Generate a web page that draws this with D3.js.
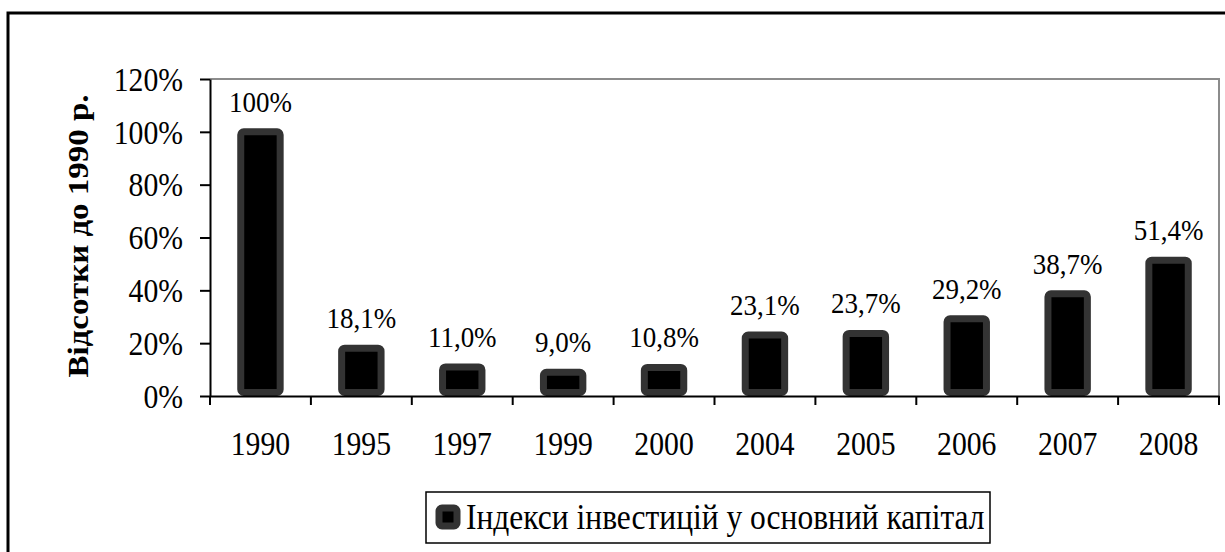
<!DOCTYPE html>
<html>
<head>
<meta charset="utf-8">
<script src="https://cdn.jsdelivr.net/npm/d3@7"></script>
<style>
  body { margin: 0; background: #fff; }
  text { font-family: "Liberation Serif", "Times New Roman", serif; fill: #000; }
</style>
</head>
<body>
<div id="chart"></div>
<script>
// chart data
var years = ["1990", "1995", "1997", "1999", "2000", "2004", "2005", "2006", "2007", "2008"];
var values = [1.0, 0.181, 0.110, 0.090, 0.108, 0.231, 0.237, 0.292, 0.387, 0.514];
var valueLabels = ["100%", "18,1%", "11,0%", "9,0%", "10,8%", "23,1%", "23,7%", "29,2%", "38,7%", "51,4%"];
var yTicks = [0, 0.2, 0.4, 0.6, 0.8, 1.0, 1.2];
var yTitle = "Відсотки до 1990 р.";
var legendLabel = "Індекси інвестицій у основний капітал";

var width = 1225, height = 552;
var plot = { left: 210, right: 1219, top: 79, bottom: 396 };
var squeeze = 0.9; // text in the picture is a bit narrower than normal

var svg = d3.select("#chart").append("svg")
    .attr("width", width)
    .attr("height", height);

// outer frame (runs off the right and bottom edge)
svg.append("rect")
    .attr("x", 8).attr("y", 13)
    .attr("width", 1300).attr("height", 600)
    .attr("fill", "none")
    .attr("stroke", "#000")
    .attr("stroke-width", 3);

// scales
var x = d3.scaleBand()
    .domain(years)
    .range([plot.left, plot.right])
    .paddingInner(0.54)
    .paddingOuter(0.27);

var y = d3.scaleLinear()
    .domain([0, 1.2])
    .range([plot.bottom, plot.top]);

// plot area border top + right (gray)
svg.append("path")
    .attr("d", "M" + plot.left + "," + plot.top + "H" + plot.right + "V" + plot.bottom)
    .attr("fill", "none")
    .attr("stroke", "#8c8c8c")
    .attr("stroke-width", 2);

// bars
var sw = 7;
svg.selectAll("rect.bar")
    .data(values)
    .enter().append("rect")
    .attr("class", "bar")
    .attr("x", function(d, i) { return x(years[i]) + sw / 2; })
    .attr("y", function(d) { return y(d); })
    .attr("width", x.bandwidth() - sw)
    .attr("height", function(d) { return y(0) - y(d) - sw / 2; })
    .attr("rx", 3)
    .attr("fill", "#000")
    .attr("stroke", "#333")
    .attr("stroke-width", sw);

// value labels
svg.selectAll("text.value")
    .data(values)
    .enter().append("text")
    .attr("class", "value")
    .attr("text-anchor", "middle")
    .attr("font-size", 30)
    .attr("transform", function(d, i) {
        return "translate(" + (x(years[i]) + x.bandwidth() / 2) + "," + (y(d) - 20) + ") scale(" + squeeze + ",1)";
    })
    .text(function(d, i) { return valueLabels[i]; });

// y axis
var yAxis = svg.append("g")
    .attr("transform", "translate(" + plot.left + ",0)")
    .call(d3.axisLeft(y).tickValues(yTicks).tickSize(10).tickSizeOuter(0).tickFormat(d3.format(".0%")));
yAxis.select(".domain").attr("stroke", "#000").attr("stroke-width", 2);
yAxis.selectAll(".tick line").attr("stroke", "#000").attr("stroke-width", 2);
yAxis.selectAll(".tick text")
    .attr("x", -27 / squeeze)
    .attr("dy", "0.34em")
    .attr("font-size", 33)
    .attr("font-family", "Liberation Serif")
    .attr("fill", "#000")
    .attr("transform", "scale(" + squeeze + ",1)");

// x axis: line, boundary ticks, labels
var xAxis = svg.append("g")
    .attr("transform", "translate(0," + plot.bottom + ")")
    .call(d3.axisBottom(x).tickSize(0).tickSizeOuter(0));
xAxis.select(".domain").attr("stroke", "#000").attr("stroke-width", 2);
xAxis.selectAll(".tick text")
    .attr("y", 0)
    .attr("dy", 0)
    .attr("font-size", 33)
    .attr("font-family", "Liberation Serif")
    .attr("fill", "#000")
    .attr("transform", "translate(0,59) scale(" + squeeze + ",1)");

var gap = (x.step() - x.bandwidth()) / 2;
var bounds = years.map(function(d) { return x(d) - gap; }).concat([plot.right]);
xAxis.selectAll("line.bound")
    .data(bounds)
    .enter().append("line")
    .attr("class", "bound")
    .attr("x1", function(d) { return d; })
    .attr("x2", function(d) { return d; })
    .attr("y1", 0)
    .attr("y2", 9)
    .attr("stroke", "#000")
    .attr("stroke-width", 2);

// y title
svg.append("text")
    .attr("transform", "translate(88,236) scale(" + squeeze + ",1) rotate(-90)")
    .attr("text-anchor", "middle")
    .attr("font-size", 33)
    .attr("font-weight", "bold")
    .text(yTitle);

// legend
var legend = svg.append("g");
legend.append("rect")
    .attr("x", 426).attr("y", 492)
    .attr("width", 564).attr("height", 51)
    .attr("fill", "#fff")
    .attr("stroke", "#000")
    .attr("stroke-width", 1.5);
legend.append("rect")
    .attr("x", 439).attr("y", 508)
    .attr("width", 18).attr("height", 18)
    .attr("rx", 3)
    .attr("fill", "#000")
    .attr("stroke", "#333")
    .attr("stroke-width", 7);
legend.append("text")
    .attr("transform", "translate(466,529) scale(" + squeeze + ",1)")
    .attr("font-size", 35)
    .text(legendLabel);
</script>
</body>
</html>
